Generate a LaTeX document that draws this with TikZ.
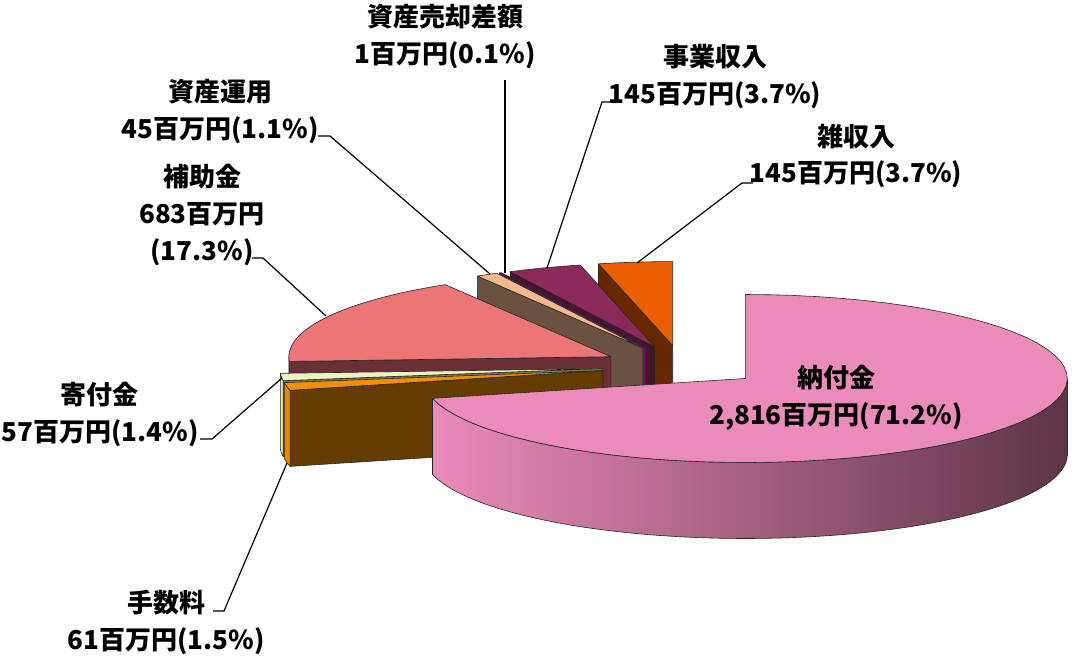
\documentclass[tikz,border=0pt]{standalone}
\usepackage{fontspec}
\newfontfamily\jp{Noto Sans CJK JP}
\def\PA{322}
\def\PB{84}
\def\PH{76}
\definecolor{zaT}{HTML}{EC5F00}
\definecolor{zaS}{HTML}{652800}
\definecolor{jiT}{HTML}{8C2A5C}
\definecolor{jiS}{HTML}{451530}
\definecolor{baT}{HTML}{A040A0}
\definecolor{baS}{HTML}{7A0A78}
\definecolor{unT}{HTML}{F0BA8C}
\definecolor{unS}{HTML}{6A5140}
\definecolor{hoT}{HTML}{EC7575}
\definecolor{hoS}{HTML}{6B3036}
\definecolor{kiT}{HTML}{F0F0C2}
\definecolor{kiS}{HTML}{7A7A52}
\definecolor{kiW}{HTML}{E6E6B8}
\definecolor{teT}{HTML}{F09000}
\definecolor{teS}{HTML}{643C00}
\definecolor{teW}{HTML}{E58A00}
\definecolor{pT}{HTML}{EB8BBA}
\definecolor{pWL}{HTML}{EA8BB9}
\definecolor{pWM}{HTML}{C27499}
\definecolor{pWR}{HTML}{5E3447}
\newcommand{\pietop}[5]{\filldraw[edge,fill=#5] (#1,#2) -- plot[domain=#3:#4,samples=60] ({#1+\PA*cos(\x)},{#2-\PB*sin(\x)}) -- cycle;}
\newcommand{\piecut}[4]{\filldraw[edge,fill=#4] (#1,#2) -- ({#1+\PA*cos(#3)},{#2-\PB*sin(#3)}) -- ({#1+\PA*cos(#3)},{#2-\PB*sin(#3)+\PH}) -- (#1,{#2+\PH}) -- cycle;}
\newcommand{\piewall}[5]{\filldraw[edge,fill=#5] plot[domain=#3:#4,samples=20] ({#1+\PA*cos(\x)},{#2-\PB*sin(\x)}) -- plot[domain=#4:#3,samples=20] ({#1+\PA*cos(\x)},{#2-\PB*sin(\x)+\PH}) -- cycle;}
\begin{document}
\begin{tikzpicture}[x=0.75pt,y=-0.75pt,
  edge/.style={draw=black!85,line width=0.45pt,line join=round},
  lbl/.style={font=\jp\bfseries\fontsize{19.5}{27.75}\selectfont,align=center,inner sep=0pt,text=black},
  leader/.style={draw=black,line width=0.9pt}]
\useasboundingbox (0,0) rectangle (1078,659);
\fill[white] (0,0) rectangle (1078,659);
% 雑収入
\piecut{672.7}{345.6}{103.32}{zaS}
\pietop{672.7}{345.6}{90}{103.32}{zaT}
% 事業収入
\piecut{654.5}{346.8}{116.64}{jiS}
\pietop{654.5}{346.8}{103.32}{116.64}{jiT}
% 資産売却差額
\piecut{645.7}{347.8}{117.0}{baS}
\pietop{645.7}{347.8}{116.64}{117.0}{baT}
% 資産運用
\piecut{643.0}{348.1}{120.96}{unS}
\pietop{643.0}{348.1}{117.0}{120.96}{unT}
% 補助金
\piecut{610.9}{356.7}{183.24}{hoS}
\piewall{610.9}{356.7}{180}{183.24}{hoS}
\pietop{610.9}{356.7}{120.96}{183.24}{hoT}
% 寄付金
\piecut{601.9}{368.6}{188.28}{kiS}
\piewall{601.9}{368.6}{183.24}{188.28}{kiW}
\pietop{601.9}{368.6}{183.24}{188.28}{kiT}
% 手数料
\piecut{603.0}{370.5}{193.68}{teS}
\piewall{603.0}{370.5}{188.28}{193.68}{teW}
\pietop{603.0}{370.5}{188.28}{193.68}{teT}
% 納付金
\shadedraw[edge,left color=pWL,middle color=pWM,right color=pWR]
  plot[domain=193.68:360,samples=80] ({745.3+\PA*cos(\x)},{378.5-\PB*sin(\x)})
  -- plot[domain=360:193.68,samples=80] ({745.3+\PA*cos(\x)},{378.5-\PB*sin(\x)+\PH}) -- cycle;
\pietop{745.3}{378.5}{90}{-166.32}{pT}
% labels
\node[lbl] (nBa) at (445,37) {資産売却差額\\1百万円(0.1\%)};
\node[lbl] (nJi) at (715,77) {事業収入\\145百万円(3.7\%)};
\node[lbl] (nZa) at (856,156) {雑収入\\145百万円(3.7\%)};
\node[lbl] (nUn) at (220,112) {資産運用\\45百万円(1.1\%)};
\node[lbl] (nHo) at (202,215) {補助金\\683百万円\\(17.3\%)};
\node[lbl] (nKi) at (100,414) {寄付金\\57百万円(1.4\%)};
\node[lbl] (nTe) at (166,622) {手数料\\61百万円(1.5\%)};
\node[lbl] (nP) at (836,398) {納付金\\2,816百万円(71.2\%)};
% leader coordinates
\coordinate (bBa) at (505,80);  \coordinate (eBa) at (505,273);
\coordinate (aJi) at (613,102); \coordinate (bJi) at (602,102); \coordinate (eJi) at (547,268);
\coordinate (aZa) at (753,183); \coordinate (bZa) at (742,183); \coordinate (eZa) at (637,263);
\coordinate (aUn) at (318,136); \coordinate (bUn) at (330,136); \coordinate (eUn) at (490,274);
\coordinate (aHo) at (252,258); \coordinate (bHo) at (263,258); \coordinate (eHo) at (326,316);
\coordinate (aKi) at (200,439); \coordinate (bKi) at (212,439); \coordinate (eKi) at (282,378);
\coordinate (aTe) at (213,611); \coordinate (bTe) at (224,611); \coordinate (eTe) at (287,463);
\draw[leader] (bBa) -- (eBa);
\draw[leader] (aJi) -- (bJi) -- (eJi);
\draw[leader] (aZa) -- (bZa) -- (eZa);
\draw[leader] (aUn) -- (bUn) -- (eUn);
\draw[leader] (aHo) -- (bHo) -- (eHo);
\draw[leader] (aKi) -- (bKi) -- (eKi);
\draw[leader] (aTe) -- (bTe) -- (eTe);
\end{tikzpicture}
\end{document}
